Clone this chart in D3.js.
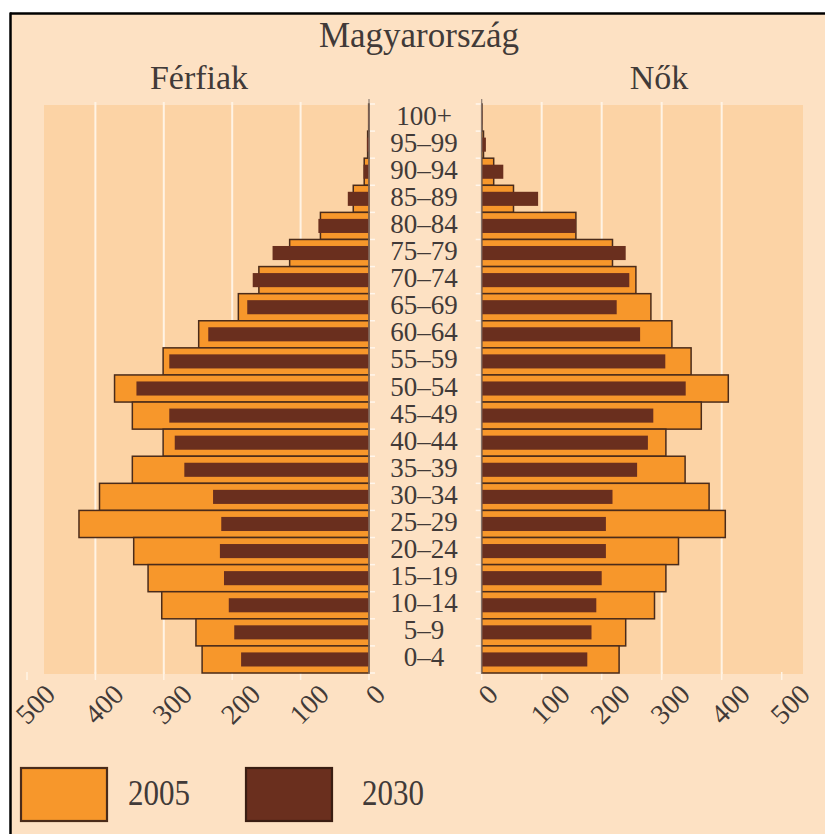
<!DOCTYPE html>
<html>
<head>
<meta charset="utf-8">
<script src="https://cdn.jsdelivr.net/npm/d3@7"></script>
<style>
  html, body { margin: 0; padding: 0; background: #ffffff; }
  svg { display: block; }
</style>
</head>
<body>
<svg id="chart" width="825" height="834"></svg>
<script>
// ---- data (thousands of people), listed top (oldest) to bottom (youngest) ----
const ageGroups = ["100+","95–99","90–94","85–89","80–84","75–79","70–74","65–69","60–64","55–59",
                   "50–54","45–49","40–44","35–39","30–34","25–29","20–24","15–19","10–14","5–9","0–4"];
const male2005   = [0.5, 2, 7, 23, 71, 116, 161, 191, 249, 301, 372, 346, 301, 346, 394, 424, 344, 323, 303, 253, 244];
const male2030   = [1, 3, 8, 31, 74, 141, 170, 178, 235, 292, 340, 292, 284, 270, 228, 216, 218, 212, 205, 197, 187];
const female2005 = [0.5, 3, 20, 53, 157, 218, 257, 282, 317, 349, 411, 366, 307, 339, 379, 406, 328, 307, 288, 240, 229];
const female2030 = [1, 7, 36, 94, 157, 240, 246, 225, 264, 306, 340, 286, 277, 259, 218, 207, 207, 200, 191, 183, 176];
const tickValues = [0, 100, 200, 300, 400, 500];
const gridValues = [100, 200, 300, 400];
const titleText = "Magyarország";
const leftTitle = "Férfiak";
const rightTitle = "Nők";
const legendLabels = ["2005", "2030"];

// ---- styling ----
const C = {
  outerBg: "#fde1c3",
  panelBg: "#fcd3a5",
  grid: "#fff3e4",
  orange: "#f7972b",
  dark: "#6a2f1e",
  outline: "#4a2b1a",
  axis: "#8c7c72",
  text: "#413a38"
};
const serif = "'Liberation Serif', 'DejaVu Serif', serif";

const svg = d3.select("#chart");

// outer frame
svg.append("rect").attr("x", 11).attr("y", 14).attr("width", 814).attr("height", 820).attr("fill", C.outerBg);
svg.append("line").attr("x1", 10).attr("x2", 825).attr("y1", 13.5).attr("y2", 13.5)
  .attr("stroke", "#000").attr("stroke-width", 2.5);
svg.append("line").attr("x1", 10.5).attr("x2", 10.5).attr("y1", 12.5).attr("y2", 834)
  .attr("stroke", "#000").attr("stroke-width", 2.5);

// scales
const y = d3.scaleBand().domain(ageGroups).range([104, 673]).padding(0);
const xL = d3.scaleLinear().domain([0, 500]).range([369, 27]);
const xR = d3.scaleLinear().domain([0, 500]).range([481.7, 781.7]);

const panelTop = 105, panelBottom = 674;

// panel backgrounds
svg.append("rect").attr("x", 44).attr("y", panelTop).attr("width", xL(0) - 44)
  .attr("height", panelBottom - panelTop).attr("fill", C.panelBg);
svg.append("rect").attr("x", xR(0)).attr("y", panelTop).attr("width", 803 - xR(0))
  .attr("height", panelBottom - panelTop).attr("fill", C.panelBg);

// gridlines
[xL, xR].forEach(sc => {
  svg.append("g").selectAll("line").data(gridValues).join("line")
    .attr("x1", d => sc(d)).attr("x2", d => sc(d))
    .attr("y1", 102).attr("y2", panelBottom)
    .attr("stroke", C.grid).attr("stroke-width", 2);
  svg.append("g").selectAll("line").data(tickValues).join("line")
    .attr("x1", d => sc(d)).attr("x2", d => sc(d))
    .attr("y1", panelBottom - 2).attr("y2", panelBottom + 6)
    .attr("stroke", C.grid).attr("stroke-width", 1.5);
});

// minor ticks along the inner side of the zero axes (band boundaries)
const bounds = ageGroups.map(a => y(a)).concat([y.range()[1]]);
svg.append("g").selectAll("line").data(bounds).join("line")
  .attr("x1", xL(0)).attr("x2", xL(0) + 6).attr("y1", d => d).attr("y2", d => d)
  .attr("stroke", "#fff6ec").attr("stroke-width", 1.5);
svg.append("g").selectAll("line").data(bounds).join("line")
  .attr("x1", xR(0) - 6).attr("x2", xR(0)).attr("y1", d => d).attr("y2", d => d)
  .attr("stroke", "#fff6ec").attr("stroke-width", 1.5);

const innerFrac = 0.52;
const bh = y.bandwidth();

// male bars
const gm = svg.append("g");
gm.selectAll("rect.o").data(ageGroups).join("rect").attr("class", "o")
  .attr("x", (d, i) => xL(male2005[i])).attr("width", (d, i) => xL(0) - xL(male2005[i]))
  .attr("y", d => y(d)).attr("height", bh)
  .attr("fill", C.orange).attr("stroke", C.outline).attr("stroke-width", 1.5);
gm.selectAll("rect.d").data(ageGroups).join("rect").attr("class", "d")
  .attr("x", (d, i) => xL(male2030[i])).attr("width", (d, i) => xL(0) - xL(male2030[i]))
  .attr("y", d => y(d) + bh * (1 - innerFrac) / 2).attr("height", bh * innerFrac)
  .attr("fill", C.dark);

// female bars
const gf = svg.append("g");
gf.selectAll("rect.o").data(ageGroups).join("rect").attr("class", "o")
  .attr("x", xR(0)).attr("width", (d, i) => xR(female2005[i]) - xR(0))
  .attr("y", d => y(d)).attr("height", bh)
  .attr("fill", C.orange).attr("stroke", C.outline).attr("stroke-width", 1.5);
gf.selectAll("rect.d").data(ageGroups).join("rect").attr("class", "d")
  .attr("x", xR(0)).attr("width", (d, i) => xR(female2030[i]) - xR(0))
  .attr("y", d => y(d) + bh * (1 - innerFrac) / 2).attr("height", bh * innerFrac)
  .attr("fill", C.dark);

// zero axes
svg.append("line").attr("x1", xL(0)).attr("x2", xL(0)).attr("y1", 99).attr("y2", 674)
  .attr("stroke", C.axis).attr("stroke-width", 1.2);
svg.append("line").attr("x1", xR(0)).attr("x2", xR(0)).attr("y1", 99).attr("y2", 674)
  .attr("stroke", C.axis).attr("stroke-width", 1.2);

// age labels
svg.append("g").selectAll("text").data(ageGroups).join("text")
  .attr("x", 424).attr("y", d => y(d) + bh / 2 + 7)
  .attr("text-anchor", "middle")
  .attr("font-family", serif).attr("font-size", 27).attr("fill", C.text)
  .text(d => d);

// rotated tick labels
function tickLabels(sc) {
  svg.append("g").selectAll("text").data(tickValues).join("text")
    .attr("transform", d => {
      const s = String(d);
      const ax = sc(d) + 12 + 6 * s.length;
      return `translate(${ax},696) rotate(-45)`;
    })
    .attr("text-anchor", "end")
    .attr("font-family", serif).attr("font-size", 28).attr("fill", C.text)
    .text(d => d);
}
tickLabels(xL);
tickLabels(xR);

// titles
svg.append("text").attr("x", 419).attr("y", 47).attr("text-anchor", "middle")
  .attr("font-family", serif).attr("font-size", 35).attr("fill", C.text).text(titleText);
svg.append("text").attr("x", 199).attr("y", 89).attr("text-anchor", "middle")
  .attr("font-family", serif).attr("font-size", 34).attr("fill", C.text).text(leftTitle);
svg.append("text").attr("x", 659).attr("y", 89).attr("text-anchor", "middle")
  .attr("font-family", serif).attr("font-size", 34).attr("fill", C.text).text(rightTitle);

// legend
const legendItems = [
  { label: legendLabels[0], fill: C.orange, stroke: C.outline, bx: 20, tx: 128 },
  { label: legendLabels[1], fill: C.dark, stroke: "#3a1d12", bx: 245, tx: 362 }
];
const lg = svg.append("g");
lg.selectAll("rect").data(legendItems).join("rect")
  .attr("x", d => d.bx + 1).attr("y", 768).attr("width", 86).attr("height", 53)
  .attr("fill", d => d.fill).attr("stroke", d => d.stroke).attr("stroke-width", 2.2);
lg.selectAll("text").data(legendItems).join("text")
  .attr("x", d => d.tx).attr("y", 805)
  .attr("font-family", serif).attr("font-size", 36).attr("fill", C.text)
  .attr("textLength", 62).attr("lengthAdjust", "spacingAndGlyphs")
  .text(d => d.label);
</script>
</body>
</html>
